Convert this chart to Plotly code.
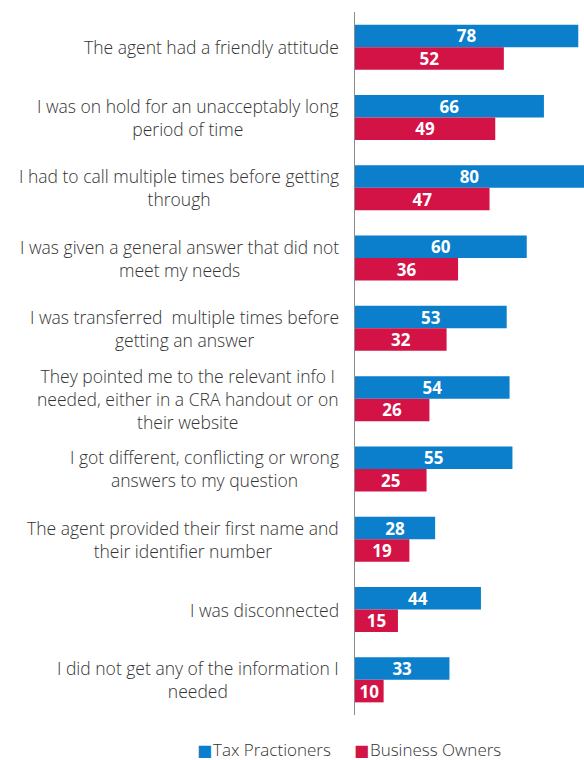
import plotly.graph_objects as go

# Survey statements and share (%) of respondents per group
statements = [
    "The agent had a friendly attitude",
    "I was on hold for an unacceptably long<br>period of time",
    "I had to call multiple times before getting<br>through",
    "I was given a general answer that did not<br>meet my needs",
    "I was transferred  multiple times before<br>getting an answer",
    "They pointed me to the relevant info I<br>needed, either in a CRA handout or on<br>their website",
    "I got different, conflicting or wrong<br>answers to my question",
    "The agent provided their first name and<br>their identifier number",
    "I was disconnected",
    "I did not get any of the information I<br>needed",
]
tax_practitioners = [78, 66, 80, 60, 53, 54, 55, 28, 44, 33]
business_owners = [52, 49, 47, 36, 32, 26, 25, 19, 15, 10]

series_names = ["Tax Practioners", "Business Owners"]
BLUE = "#0B7FCB"
RED = "#D31245"
TEXT = "#333333"
FONT = "Open Sans"

fig = go.Figure()
for name, vals, col in [
    (series_names[0], tax_practitioners, BLUE),
    (series_names[1], business_owners, RED),
]:
    fig.add_trace(go.Bar(
        y=statements,
        x=vals,
        name=name,
        orientation="h",
        marker=dict(color=col, line=dict(width=0)),
        text=[str(v) for v in vals],
        textposition="inside",
        insidetextanchor="middle",
        constraintext="none",
        textangle=0,
        textfont=dict(family=FONT, size=17, color="white", weight="bold"),
        cliponaxis=True,
    ))

# Category labels, centred line-by-line, to the left of the axis
for s in statements:
    fig.add_annotation(
        x=0, xref="paper", y=s, yref="y",
        text=s, showarrow=False,
        xanchor="right", yanchor="middle", align="center",
        xshift=-14,
        font=dict(family=FONT, size=17.5, color=TEXT, weight=300),
    )

# Legend row under the chart: coloured square key followed by the series name
legend_items = [(series_names[0], BLUE, -157), (series_names[1], RED, 0)]
for name, col, shift in legend_items:
    fig.add_annotation(
        x=0, xref="paper", y=0, yref="paper",
        text="■", showarrow=False, xanchor="left", yanchor="middle",
        xshift=shift - 2, yshift=-35, borderpad=0,
        font=dict(family="DejaVu Sans", size=16, color=col),
    )
    fig.add_annotation(
        x=0, xref="paper", y=0, yref="paper",
        text=name, showarrow=False, xanchor="left", yanchor="middle",
        xshift=shift + 14, yshift=-34, borderpad=0,
        font=dict(family=FONT, size=17, color=TEXT, weight=300),
    )

fig.update_layout(
    width=584, height=760,
    margin=dict(l=355, r=0, t=12, b=45),
    paper_bgcolor="white", plot_bgcolor="white",
    barmode="group", bargap=0.36, bargroupgap=0,
    showlegend=False,
    xaxis=dict(range=[0, 80], visible=False, fixedrange=True),
    yaxis=dict(
        autorange="reversed", showticklabels=False, ticks="",
        showgrid=False, zeroline=False,
        showline=True, linecolor="#8c8c8c", linewidth=1,
    ),
)

fig.write_html("out.html")
